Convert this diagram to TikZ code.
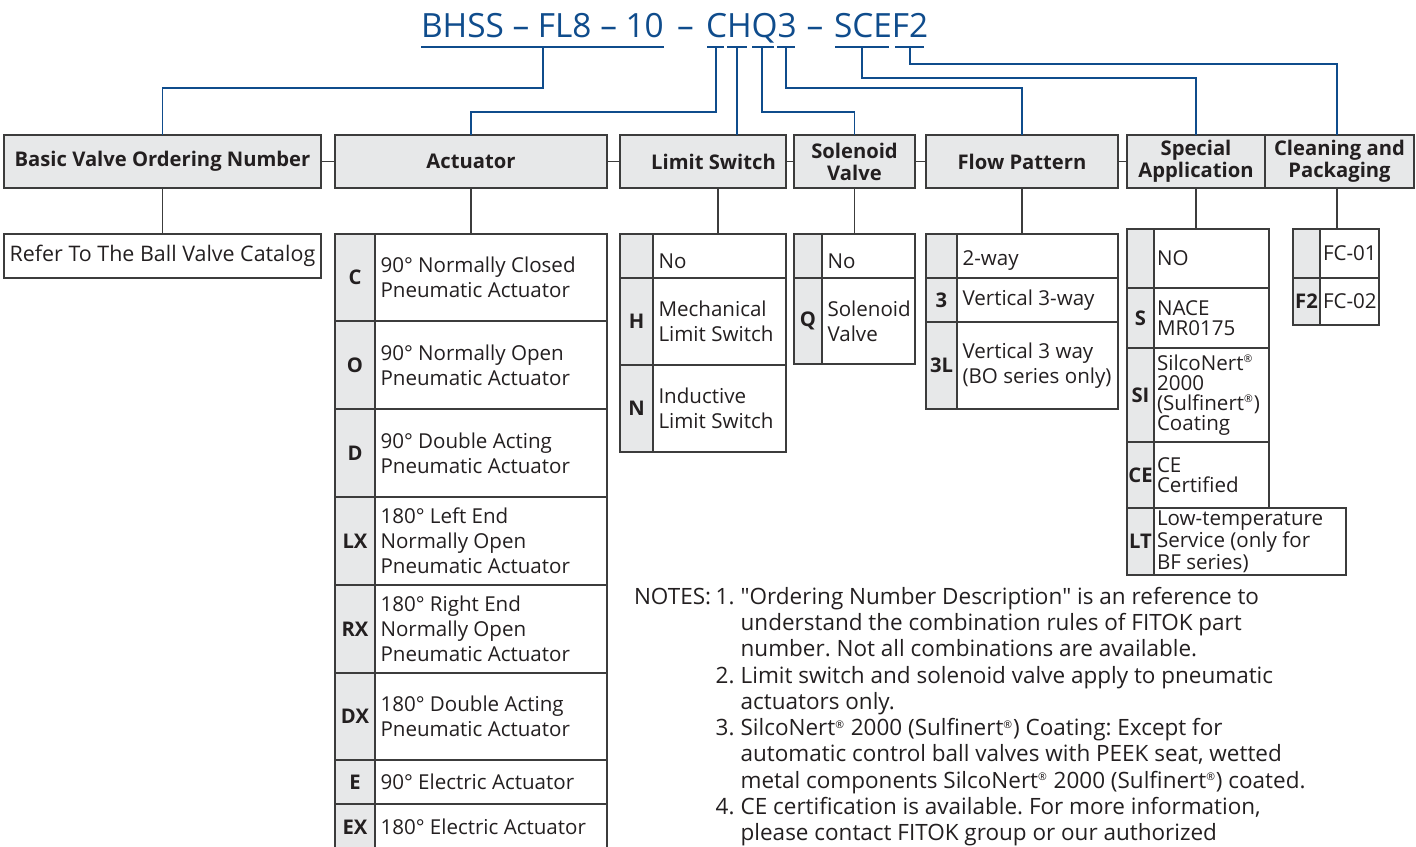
\documentclass[tikz,border=0pt]{standalone}
\usepackage{fontspec}
\setmainfont{Open Sans}
\usetikzlibrary{positioning,calc}
\definecolor{fitok}{HTML}{0F4C8C}
\definecolor{ink}{HTML}{231F20}
\definecolor{rule}{HTML}{3C3C3C}
\definecolor{keygray}{HTML}{E7E8E9}
\frenchspacing
\newcommand\reg{\textsuperscript{\fontsize{6}{6}\selectfont ®}}
\newcommand\headbox[4]{\node[head,minimum width={(#3-#2)*0.02cm}] (#1) at ({(#2+#3)/2},161.5) {#4};}
\newcommand\keyrow[8]{%
  \fill[keygray] (#2,#5) rectangle (#3,#6);
  \draw[frame] (#2,#5) rectangle (#4,#6) (#3,#5) -- (#3,#6);
  \node[keytxt] (#1k) at ({(#2+#3)/2},{(#5+#6)/2}) {#7};
  \node[desc] (#1t) at (#3,{(#5+#6)/2}) {#8};}

\begin{document}
\begin{tikzpicture}[x=0.02cm,y=-0.02cm,
  every node/.style={text=ink,inner sep=0pt,outer sep=0pt},
  wire/.style={draw=fitok,line width=1.1pt},
  frame/.style={draw=rule,line width=0.8pt},
  head/.style={draw=rule,line width=0.8pt,fill=keygray,minimum height=1.06cm,align=center,
    font=\bfseries\fontsize{11.5}{12.5}\selectfont},
  keytxt/.style={font=\bfseries\fontsize{11.5}{13}\selectfont},
  desc/.style={anchor=west,xshift=1.1mm,align=left,font=\fontsize{11.7}{14.2}\selectfont},
  ttl/.style={text=fitok,font=\fontsize{19}{20}\selectfont,anchor=base west}]
  \useasboundingbox (0,0) rectangle (1416,846);
  \clip (0,0) rectangle (1416,846);

  \node[ttl] (tBase) at (421,37) {BHSS – FL8 – 10};
  \node[ttl,anchor=base] (dashA) at (685.5,37) {–};
  \node[ttl] (tCHQ) at (706,37) {CHQ3};
  \node[ttl,anchor=base] (dashB) at (815,37) {–};
  \node[ttl] (tSCEF) at (834,37) {SCEF2};
  \foreach \a/\b in {421/664,707/724,727/747,752/774,777/795,835/889,895/924}
    \draw[wire] (\a,47) -- (\b,47);

  \headbox{basic}{4}{321}{Basic Valve Ordering Number}
  \headbox{act}{335}{607}{Actuator}
  \headbox{lim}{620}{786}{\hspace*{12pt}Limit Switch}
  \headbox{sol}{794}{915}{Solenoid\\Valve}
  \headbox{flow}{926}{1118}{Flow Pattern}
  \headbox{spec}{1127}{1265}{Special\\Application}
  \headbox{clean}{1265}{1414}{Cleaning and\\Packaging}
  \foreach \a/\b in {basic/act,act/lim,lim/sol,sol/flow,flow/spec}
    \draw[frame] (\a.east) -- (\b.west);

  \coordinate (uB) at (543,47); \coordinate (uC) at (716,47); \coordinate (uH) at (737,47);
  \coordinate (uQ) at (762,47); \coordinate (u3) at (786,47); \coordinate (uS) at (862,47);
  \coordinate (uF) at (910,47);
  \coordinate (act-T) at (471,234); \coordinate (lim-T) at (718,234); \coordinate (sol-T) at (854.5,234);
  \coordinate (flow-T) at (1022,234); \coordinate (spec-T) at (1196,229); \coordinate (clean-T) at (1337,229);

  \draw[wire] (uB) -- ++(0,41) -| (basic.north);
  \draw[wire] (uC) -- ++(0,65) -| (act.north);
  \draw[wire] (uH) -- (uH |- lim.north);
  \draw[wire] (uQ) -- ++(0,65) -| (sol.north);
  \draw[wire] (u3) -- ++(0,41) -| (flow.north);
  \draw[wire] (uS) -- ++(0,31) -| (spec.north);
  \draw[wire] (uF) -- ++(0,17) -| (clean-T |- clean.north);

  \node[frame,minimum width=6.34cm,minimum height=0.88cm,font=\fontsize{12.2}{14}\selectfont]
    (refer) at (162.5,256) {Refer To The Ball Valve Catalog};
  \draw[frame] (basic.south) -- (refer.north);
  \foreach \h in {act,lim,sol,flow,spec,clean}
    \draw[frame] (\h-T |- \h.south) -- (\h-T);

  \foreach \kk/\ya/\yb/\txt in {C/234/321/{90° Normally Closed\\Pneumatic Actuator},
      O/321/409/{90° Normally Open\\Pneumatic Actuator},
      D/409/497/{90° Double Acting\\Pneumatic Actuator},
      LX/497/585/{180° Left End\\Normally Open\\Pneumatic Actuator},
      RX/585/673/{180° Right End\\Normally Open\\Pneumatic Actuator},
      DX/673/760/{180° Double Acting\\Pneumatic Actuator},
      E/760/804/{90° Electric Actuator},
      EX/804/850/{180° Electric Actuator}}
    {\keyrow{act\kk}{335}{375}{607}{\ya}{\yb}{\kk}{\txt}}

  \begin{scope}[desc/.append style={yshift=-1mm}]
  \keyrow{limA}{620}{653}{786}{234}{278}{}{No}
  \keyrow{solA}{794}{822}{915}{234}{278}{}{No}
  \keyrow{flowA}{926}{957}{1118}{234}{278}{}{2-way}
  \end{scope}
  \keyrow{limH}{620}{653}{786}{278}{365}{H}{Mechanical\\Limit Switch}
  \keyrow{limN}{620}{653}{786}{365}{452}{N}{Inductive\\Limit Switch}
  \keyrow{solQ}{794}{822}{915}{278}{364}{Q}{Solenoid\\Valve}
  \keyrow{flow3}{926}{957}{1118}{278}{322}{3}{Vertical 3-way}
  \keyrow{flow3L}{926}{957}{1118}{322}{409}{3L}{Vertical 3 way\\(BO series only)}

  \begin{scope}[desc/.append style={font=\fontsize{11.7}{11.3}\selectfont,xshift=-0.5mm}]
  \keyrow{specA}{1127}{1154}{1269}{229}{288}{}{NO}
  \keyrow{specS}{1127}{1154}{1269}{288}{348}{S}{NACE\\MR0175}
  \keyrow{specSI}{1127}{1154}{1269}{348}{442}{SI}{SilcoNert\reg\\2000\\(Sulfinert\reg)\\Coating}
  \keyrow{specCE}{1127}{1154}{1269}{442}{508}{CE}{CE\\Certified}
  \keyrow{specLT}{1127}{1154}{1346}{508}{575}{LT}{Low-temperature\\Service (only for\\BF series)}
  \keyrow{cleanA}{1293}{1320}{1379}{229}{278}{}{FC-01}
  \keyrow{cleanF}{1293}{1320}{1379}{278}{325}{F2}{FC-02}
  \end{scope}

  \node[anchor=north west,font=\fontsize{12.8}{14.95}\selectfont] (notes) at (634,586) {%
    \begin{tabular}{@{}p{46.5pt}@{}p{14.2pt}@{}l@{}}
    NOTES: & 1. & \textquotedbl Ordering Number Description\textquotedbl{} is an reference to\\
    && understand the combination rules of FITOK part\\
    && number. Not all combinations are available.\\
    & 2. & Limit switch and solenoid valve apply to pneumatic\\
    && actuators only.\\
    & 3. & SilcoNert\reg{} 2000 (Sulfinert\reg) Coating: Except for\\
    && automatic control ball valves with PEEK seat, wetted\\
    && metal components SilcoNert\reg{} 2000 (Sulfinert\reg) coated.\\
    & 4. & CE certification is available. For more information,\\
    && please contact FITOK group or our authorized
    \end{tabular}};
\end{tikzpicture}
\end{document}
